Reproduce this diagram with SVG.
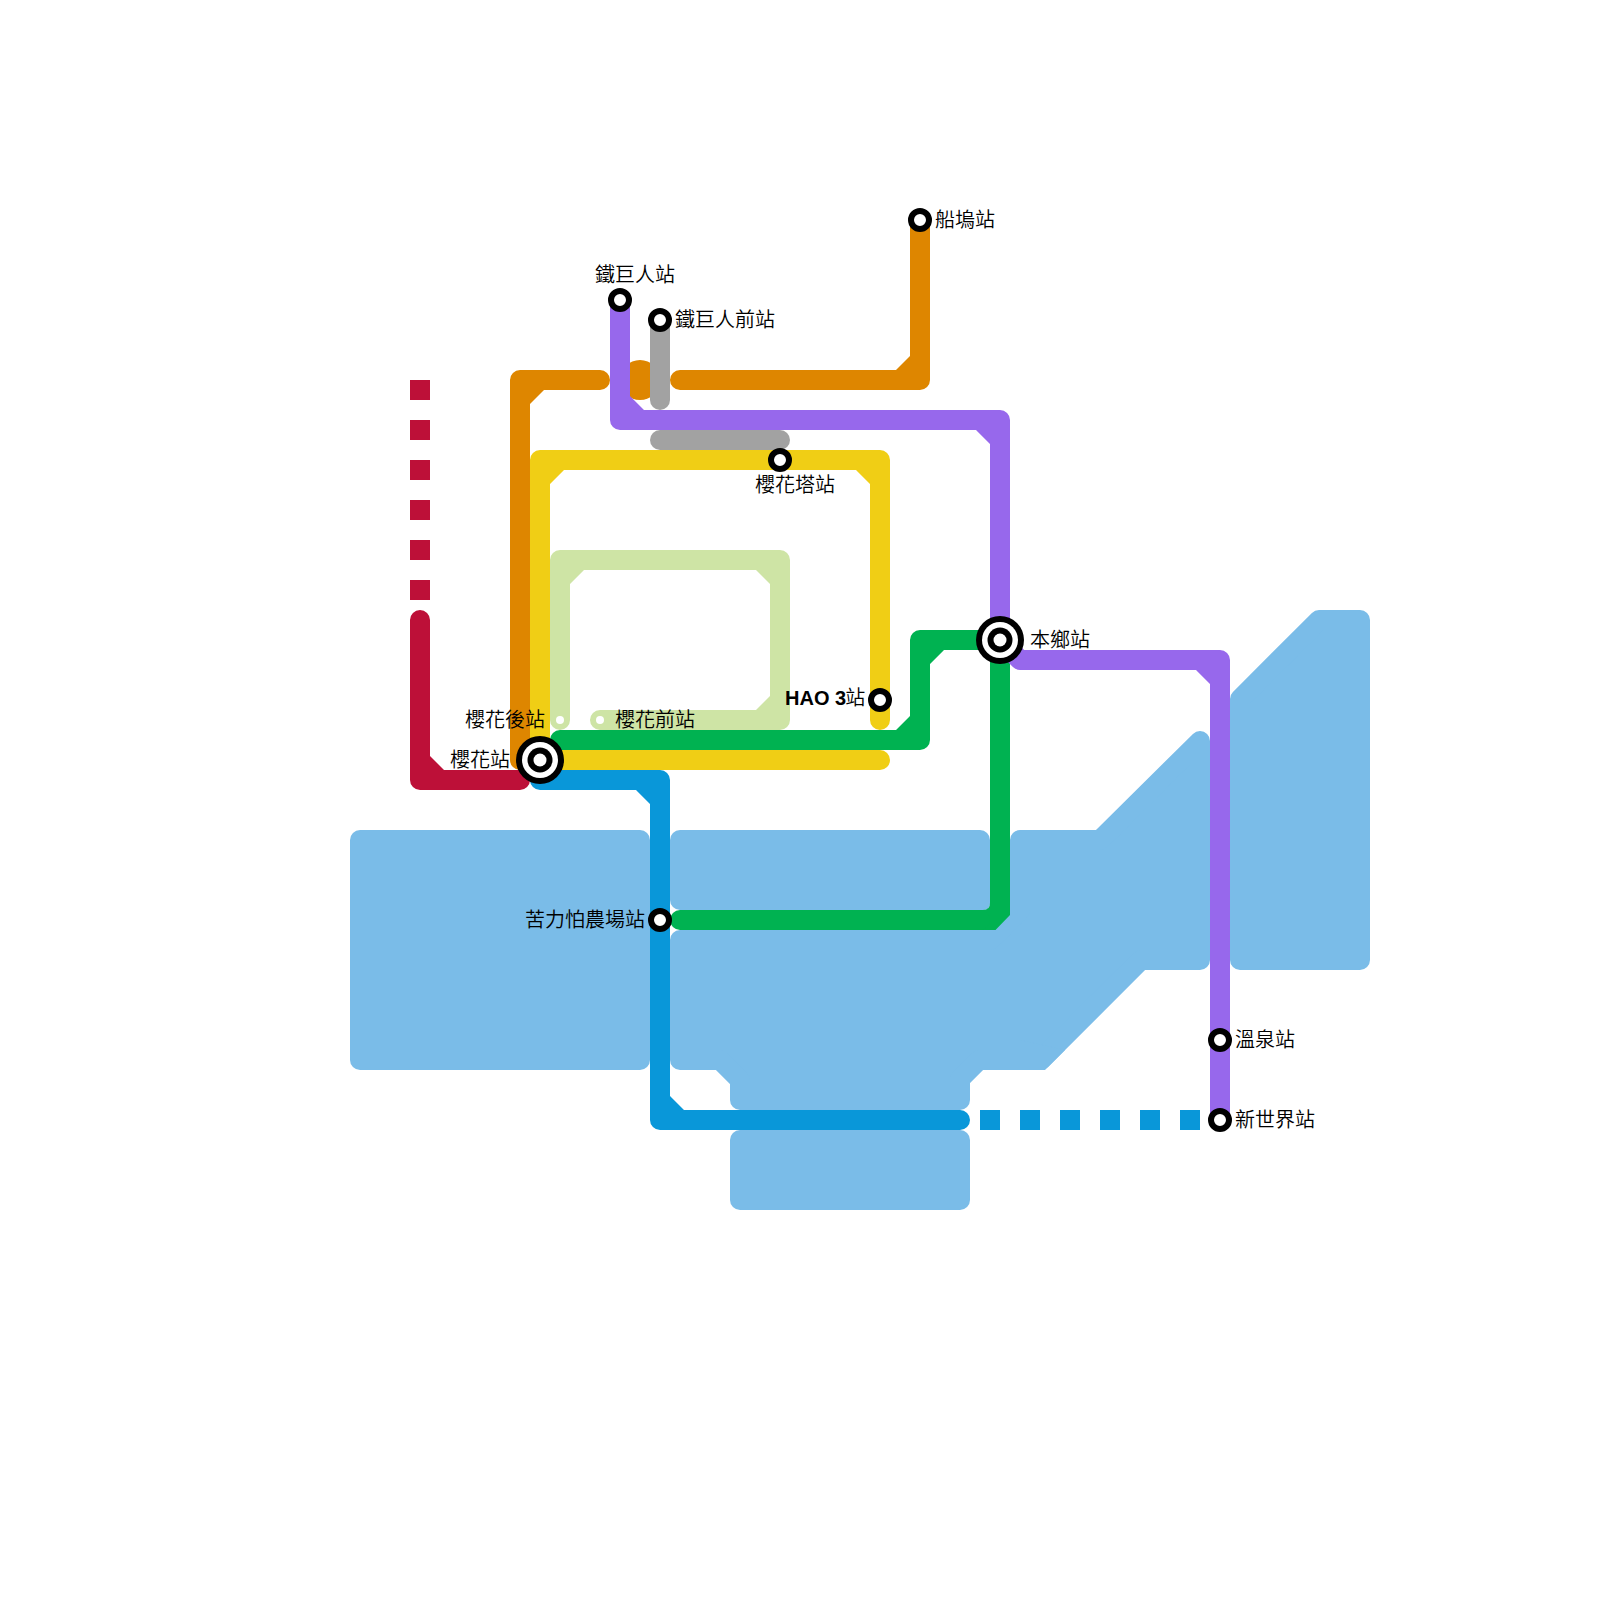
<svg xmlns="http://www.w3.org/2000/svg" width="1600" height="1600" viewBox="0 0 1600 1600">
<style>
text{font-family:"Liberation Sans","Noto Sans CJK TC",sans-serif;font-size:20px;font-weight:350;fill:#000}
.w{fill:#7abce8}
.ws{fill:#7abce8;stroke:#7abce8;stroke-width:20;stroke-linejoin:round}
.l{fill:none;stroke-width:20;stroke-linecap:round;stroke-linejoin:round}
.d{fill:none;stroke-width:20;stroke-dasharray:20 20}
.red{stroke:#bd1038}.redf{fill:#bd1038}
.ora{stroke:#de8600}.oraf{fill:#de8600}
.yel{stroke:#f0ce15}.yelf{fill:#f0ce15}
.pal{stroke:#cee4a5}.palf{fill:#cee4a5}
.gre{stroke:#00b251}.gref{fill:#00b251}
.pur{stroke:#9768ec}.purf{fill:#9768ec}
.gry{stroke:#a2a2a2}
.blu{stroke:#0997d9}.bluf{fill:#0997d9}
.st{fill:#fff;stroke:#000;stroke-width:6}
</style>
<g id="water">
<rect class="w" x="350" y="830" width="300" height="240" rx="10"/>
<path class="w" d="M680 830H980A10 10 0 0 1 990 840V904A6 6 0 0 1 984 910H680A10 10 0 0 1 670 900V840A10 10 0 0 1 680 830Z"/>
<rect class="w" x="730" y="1130" width="240" height="80" rx="10"/>
<path class="ws" d="M680 940H990L1020 910V840H1100L1200 741V960H1141L1041 1060H979L960 1079V1100H740V1080L720 1060H680Z"/>
<path class="w" d="M1020 1040L1065 1050L1045 1070H1020Z"/>
<path class="ws" d="M1240 960H1360V620H1319L1240 699Z"/>
</g>
<g id="connectors">
<path class="d red" d="M420 380V600"/>
<path class="l red" d="M420 620V780H520"/>
<path class="redf" d="M430 756L444 770H430Z"/>
<circle class="oraf" cx="640" cy="380" r="20"/>
<path class="l ora" d="M600 380H520V760"/>
<path class="oraf" d="M530 404L544 390H530Z"/>
<path class="l ora" d="M680 380H920V220"/>
<path class="oraf" d="M896 370L910 356V370Z"/>
<path class="l gry" d="M660 320V400"/>
<path class="l gry" d="M660 440H780"/>
<path class="l yel" d="M880 720V460H540V760H880"/>
<path class="yelf" d="M856 470L870 484V470ZM550 484L564 470H550Z"/>
<path class="l pal" d="M560 720V560H780V720H600"/>
<path class="palf" d="M570 584L584 570H570ZM756 570L770 584V570ZM770 696L756 710H770Z"/>
<path class="l gre" d="M560 740H920V640H1000V900"/>
<path class="gref" d="M896 730L910 716V730ZM930 664L944 650H930Z"/>
<path class="gref" d="M990 895H1010V915L995.500 930H975V910H983Q990 910 990 903Z"/>
<path class="l gre" d="M680 920H980"/>
<path class="l pur" d="M620 300V420H1000V640L1020 660H1220V1120"/>
<path class="purf" d="M630 396L644 410H630ZM976 430L990 444V430ZM1196 670L1210 684V670Z"/>
<path class="l blu" d="M540 780H660V1120H960"/>
<path class="bluf" d="M636 790L650 804V790ZM670 1096L684 1110H670Z"/>
<path class="d blu" d="M980 1120H1200"/>
</g>
<g id="node-tiejuren"><circle class="st" cx="620" cy="300" r="9"/><text x="595" y="282">鐵巨人站</text></g>
<g id="node-tiejuren-front"><circle class="st" cx="660" cy="320" r="9"/><text x="675" y="327">鐵巨人前站</text></g>
<g id="node-dock"><circle class="st" cx="920" cy="220" r="9"/><text x="935" y="227">船塢站</text></g>
<g id="node-tower"><circle class="st" cx="780" cy="460" r="9"/><text x="755" y="492">櫻花塔站</text></g>
<g id="node-hongo"><circle cx="1000" cy="640" r="24"/><circle cx="1000" cy="640" r="18" fill="#fff"/><circle cx="1000" cy="640" r="12.500"/><circle cx="1000" cy="640" r="6.500" fill="#fff"/><text x="1030" y="647">本鄉站</text></g>
<g id="node-hao3"><circle class="st" cx="880" cy="700" r="9"/><text x="785" y="705"><tspan font-weight="700">HAO 3</tspan><tspan dx="-1">站</tspan></text></g>
<g id="node-sakura-back"><circle cx="560" cy="720" r="4" fill="#fff"/><text x="465" y="727">櫻花後站</text></g>
<g id="node-sakura-front"><circle cx="600" cy="720" r="4" fill="#fff"/><text x="615" y="727">櫻花前站</text></g>
<g id="node-sakura"><circle cx="540" cy="760" r="24"/><circle cx="540" cy="760" r="18" fill="#fff"/><circle cx="540" cy="760" r="12.500"/><circle cx="540" cy="760" r="6.500" fill="#fff"/><text x="450" y="767">櫻花站</text></g>
<g id="node-farm"><circle class="st" cx="660" cy="920" r="9"/><text x="525" y="927">苦力怕農場站</text></g>
<g id="node-onsen"><circle class="st" cx="1220" cy="1040" r="9"/><text x="1235" y="1047">溫泉站</text></g>
<g id="node-newworld"><circle class="st" cx="1220" cy="1120" r="9"/><text x="1235" y="1127">新世界站</text></g>
</svg>
